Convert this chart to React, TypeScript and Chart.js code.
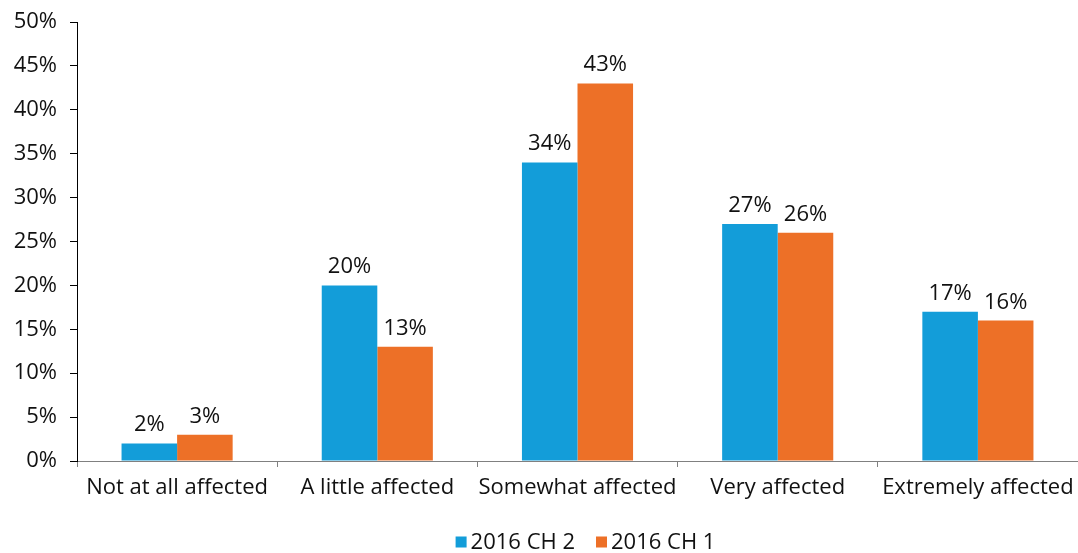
import React, { useEffect, useRef } from "react";
import { Chart, registerables } from "chart.js";

Chart.register(...registerables);

const categories = [
  "Not at all affected",
  "A little affected",
  "Somewhat affected",
  "Very affected",
  "Extremely affected",
];
const seriesNames = ["2016 CH 2", "2016 CH 1"];
const ch2Values = [2, 20, 34, 27, 17];
const ch1Values = [3, 13, 43, 26, 16];
const yTicks = [0, 5, 10, 15, 20, 25, 30, 35, 40, 45, 50];

const BLUE = "#139dd9";
const ORANGE = "#ed7027";
const TEXT = "#111111";
const FONT = "'Open Sans', 'Noto Sans', sans-serif";

// Writes each bar's percentage just above it
const barValueLabels = {
  id: "barValueLabels",
  afterDatasetsDraw(chart: any) {
    const ctx = chart.ctx;
    ctx.save();
    ctx.fillStyle = TEXT;
    ctx.font = `22px ${FONT}`;
    ctx.textAlign = "center";
    ctx.textBaseline = "alphabetic";
    chart.data.datasets.forEach((ds: any, i: number) => {
      const meta = chart.getDatasetMeta(i);
      meta.data.forEach((bar: any, j: number) => {
        ctx.fillText(`${ds.data[j]}%`, bar.x, bar.y - 12);
      });
    });
    ctx.restore();
  },
};

// Small square swatches with series names, centred under the plot
const bottomLegend = {
  id: "bottomLegend",
  afterDraw(chart: any) {
    const ctx = chart.ctx;
    const box = 11;
    const gapText = 4;
    const gapItem = 21;
    ctx.save();
    ctx.font = `22px ${FONT}`;
    ctx.textBaseline = "middle";
    ctx.textAlign = "left";
    const items = chart.data.datasets.map((ds: any) => ({
      label: ds.label,
      color: ds.backgroundColor,
      w: ctx.measureText(ds.label).width,
    }));
    const total =
      items.reduce((s: number, it: any) => s + box + gapText + it.w, 0) +
      gapItem * (items.length - 1);
    const centre = (chart.chartArea.left + chart.chartArea.right) / 2 + 8;
    let x = centre - total / 2;
    const y = 542;
    items.forEach((it: any) => {
      ctx.fillStyle = it.color;
      ctx.fillRect(x, y - box / 2, box, box);
      x += box + gapText;
      ctx.fillStyle = TEXT;
      ctx.fillText(it.label, x, y + 1);
      x += it.w + gapItem;
    });
    ctx.restore();
  },
};

export default function App() {
  const canvasRef = useRef<HTMLCanvasElement | null>(null);

  useEffect(() => {
    if (!canvasRef.current) return;
    const chart = new Chart(canvasRef.current, {
      type: "bar",
      data: {
        labels: categories,
        datasets: [
          { label: seriesNames[0], data: ch2Values, backgroundColor: BLUE },
          { label: seriesNames[1], data: ch1Values, backgroundColor: ORANGE },
        ],
      },
      options: {
        animation: false,
        responsive: false,
        maintainAspectRatio: false,
        layout: { padding: { top: 22, right: 0, left: 0, bottom: 0 } },
        datasets: {
          bar: { barPercentage: 1, categoryPercentage: 0.555 },
        },
        plugins: {
          tooltip: { enabled: false },
          legend: { display: false },
        },
        scales: {
          x: {
            afterFit: (scale: any) => {
              scale.height = 92;
              scale.paddingLeft = 0;
              scale.paddingRight = 0;
            },
            grid: {
              offset: true,
              drawOnChartArea: false,
              drawTicks: true,
              tickLength: 6,
              color: "#808080",
            },
            border: { color: "#808080", width: 1 },
            ticks: {
              color: TEXT,
              font: { family: FONT, size: 22 },
              padding: 8,
              maxRotation: 0,
              autoSkip: false,
            },
          },
          y: {
            min: 0,
            max: 50,
            afterBuildTicks: (scale: any) => {
              scale.ticks = yTicks.map((v) => ({ value: v }));
            },
            afterFit: (scale: any) => {
              scale.width = 77;
              scale.paddingTop = 0;
              scale.paddingBottom = 0;
            },
            grid: {
              drawOnChartArea: false,
              drawTicks: true,
              tickLength: 7,
              color: "#000000",
            },
            border: { color: "#000000", width: 1 },
            ticks: {
              color: TEXT,
              font: { family: FONT, size: 22 },
              padding: 13,
              callback: (v: any) => `${v}%`,
            },
          },
        },
      },
      plugins: [barValueLabels, bottomLegend],
    });
    return () => chart.destroy();
  }, []);

  return (
    <div style={{ position: "fixed", left: 0, top: 0, width: 1078, height: 553, background: "#fff" }}>
      <canvas ref={canvasRef} width={1078} height={553} style={{ display: "block" }} />
    </div>
  );
}
